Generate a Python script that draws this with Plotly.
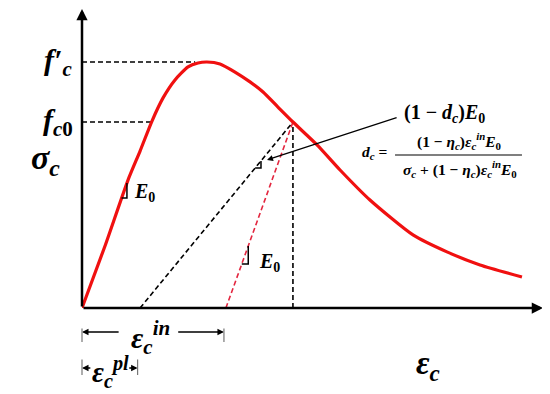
import plotly.graph_objects as go

# concrete compressive stress-strain curve (normalised: strain / peak strain, stress / f'c)
strain = [0, 0.187, 0.374, 0.472, 0.569, 0.659, 0.756, 0.862, 0.943, 1.016, 1.122,
          1.244, 1.366, 1.472, 1.593, 1.715, 1.911, 2.098, 2.341, 2.691, 2.967, 3.236, 3.577]
stress = [0, 0.252, 0.520, 0.638, 0.760, 0.854, 0.927, 0.980, 0.996, 1.0, 0.992,
          0.959, 0.919, 0.878, 0.817, 0.756, 0.663, 0.561, 0.439, 0.297, 0.228, 0.175, 0.126]

fc_peak = 1.0          # f'c
eps_peak_dash = 0.92   # end of the f'c guide line
fc0 = 0.756            # f_c0
eps_fc0 = 0.569
eps_d = 1.715          # unloading point
sig_d = 0.756
eps_pl = 0.472         # plastic strain
eps_in = 1.17          # inelastic strain
eps_in_arrow = 1.154

X_MAX = 3.748
Y_MAX = 1.2195
PX_X = 461 / X_MAX     # pixels per strain unit
PX_Y = 300 / Y_MAX     # pixels per stress unit

E0 = stress[2] / strain[2]

FONT = "Liberation Serif"
RED = "#f01010"
RED_DASH = "#e3263f"
DASH = dict(color="black", width=1.6, dash="5px,3px")

fig = go.Figure()

# guide lines
fig.add_trace(go.Scatter(x=[0, eps_peak_dash], y=[fc_peak, fc_peak], mode="lines", line=DASH))
fig.add_trace(go.Scatter(x=[0, eps_fc0], y=[fc0, fc0], mode="lines", line=DASH))
fig.add_trace(go.Scatter(x=[eps_d, eps_d], y=[0, sig_d], mode="lines", line=DASH))
fig.add_trace(go.Scatter(x=[eps_pl, eps_d], y=[0, sig_d], mode="lines", line=DASH))
fig.add_trace(go.Scatter(x=[eps_in, eps_d], y=[0, sig_d], mode="lines",
                         line=dict(color=RED_DASH, width=1.6, dash="5px,3px")))

# main curve
fig.add_trace(go.Scatter(x=strain, y=stress, mode="lines",
                         line=dict(color=RED, width=3.2, shape="spline", smoothing=0.6)))


# slope marks
def slope_mark(x0, slope, s1, s2):
    xa = x0 + s1 / slope
    xb = x0 + s2 / slope
    fig.add_trace(go.Scatter(x=[xa, xb, xb], y=[s1, s1, s2], mode="lines",
                             line=dict(color="black", width=1.5)))


slope_mark(0, E0, 0.447, 0.508)
slope_mark(eps_in, sig_d / (eps_d - eps_in), 0.179, 0.252)
slope_mark(eps_pl, sig_d / (eps_d - eps_pl), 0.569, 0.598)

ann = []


def label(x, y, text, font, xanchor="center", yanchor="middle"):
    ann.append(dict(x=x / X_MAX, y=y / Y_MAX, xref="paper", yref="paper", text=text,
                    showarrow=False, font=font, xanchor=xanchor, yanchor=yanchor))


def line_ann(x0, y0, x1, y1, head=2, width=1.3, color="black", size=1.0):
    # arrow drawn from (x0, y0) to the tip (x1, y1), given in data units
    ann.append(dict(x=x1 / X_MAX, y=y1 / Y_MAX, xref="paper", yref="paper",
                    ax=(x0 - x1) * PX_X, ay=-(y0 - y1) * PX_Y, text="", showarrow=True,
                    arrowhead=head, arrowsize=size, arrowwidth=width, arrowcolor=color))


# axes with arrows
line_ann(0, 0, X_MAX, 0, head=2, width=2.5, size=0.9)
line_ann(0, 0, 0, Y_MAX, head=2, width=2.5, size=0.9)

big = dict(family=FONT, size=30, color="black", weight="bold")
label(-0.195, fc_peak, "<i>f′</i><sub><i>c</i></sub>", big)
label(-0.195, fc0, "<i>f</i><sub><i>c</i>0</sub>", big)
label(-0.30, 0.60, "<i>σ</i><sub><i>c</i></sub>", dict(family=FONT, size=34, color="black", weight="bold"))

mid = dict(family=FONT, size=20, color="black", weight="bold")
label(0.405, 0.47, "<i>E</i><sub>0</sub>", mid, xanchor="left")
label(1.42, 0.185, "<i>E</i><sub>0</sub>", mid, xanchor="left")

# damaged modulus callout
line_ann(2.57, 0.776, 1.504, 0.602, head=2, width=1.2, size=1.0)
label(2.60, 0.79, "(1 − <i>d<sub>c</sub></i>)<i>E</i><sub>0</sub>",
      dict(family=FONT, size=20, color="black", weight="bold"), xanchor="left")
small = dict(family=FONT, size=15.5, color="black", weight="bold")
label(2.50, 0.632, "<i>d<sub>c</sub></i> =", small, xanchor="right")
label(3.073, 0.677, "(1 − <i>η<sub>c</sub></i>)<i>ε</i><sub><i>c</i></sub><sup><i>in</i></sup><i>E</i><sub>0</sub>", small)
label(3.073, 0.565, "<i>σ<sub>c</sub></i> + (1 − <i>η<sub>c</sub></i>)<i>ε</i><sub><i>c</i></sub><sup><i>in</i></sup><i>E</i><sub>0</sub>", small)

# strain labels below the axis
label(0.553, -0.118, "<i>ε</i><sub><i>c</i></sub><sup><i>in</i></sup>", big)
label(0.228, -0.262, "<i>ε</i><sub><i>c</i></sub><sup><i>pl</i></sup>",
      dict(family=FONT, size=29, color="black", weight="bold"))
label(2.81, -0.232, "<i>ε</i><sub><i>c</i></sub>", dict(family=FONT, size=33, color="black", weight="bold"))

# dimension arrows
y_in = -0.0976
line_ann(0.31, y_in, 0, y_in)
line_ann(0.77, y_in, eps_in_arrow, y_in)
y_pl = -0.244
line_ann(0.08, y_pl, 0, y_pl)
line_ann(eps_pl - 0.1, y_pl, eps_pl - 0.02, y_pl)

for xv, y0, y1 in [(0, -0.077, -0.138), (eps_in_arrow, -0.077, -0.138),
                   (0, -0.203, -0.272), (eps_pl - 0.02, -0.203, -0.272)]:
    line_ann(xv, y0, xv, y1, head=0, width=1.2, color="#777777")

# d_c fraction bar
fig.add_shape(type="line", xref="paper", yref="paper",
              x0=2.545 / X_MAX, x1=3.577 / X_MAX, y0=0.622 / Y_MAX, y1=0.622 / Y_MAX,
              line=dict(color="black", width=1.2))

# page body adds an 8px offset, so the figure is 8px smaller and margins shifted
fig.update_layout(
    width=542, height=386,
    margin=dict(l=74, r=7, t=0, b=86),
    plot_bgcolor="white", paper_bgcolor="white",
    showlegend=False,
    xaxis=dict(range=[0, X_MAX], visible=False),
    yaxis=dict(range=[0, Y_MAX], visible=False),
    annotations=ann,
)

fig.write_html("out.html")
